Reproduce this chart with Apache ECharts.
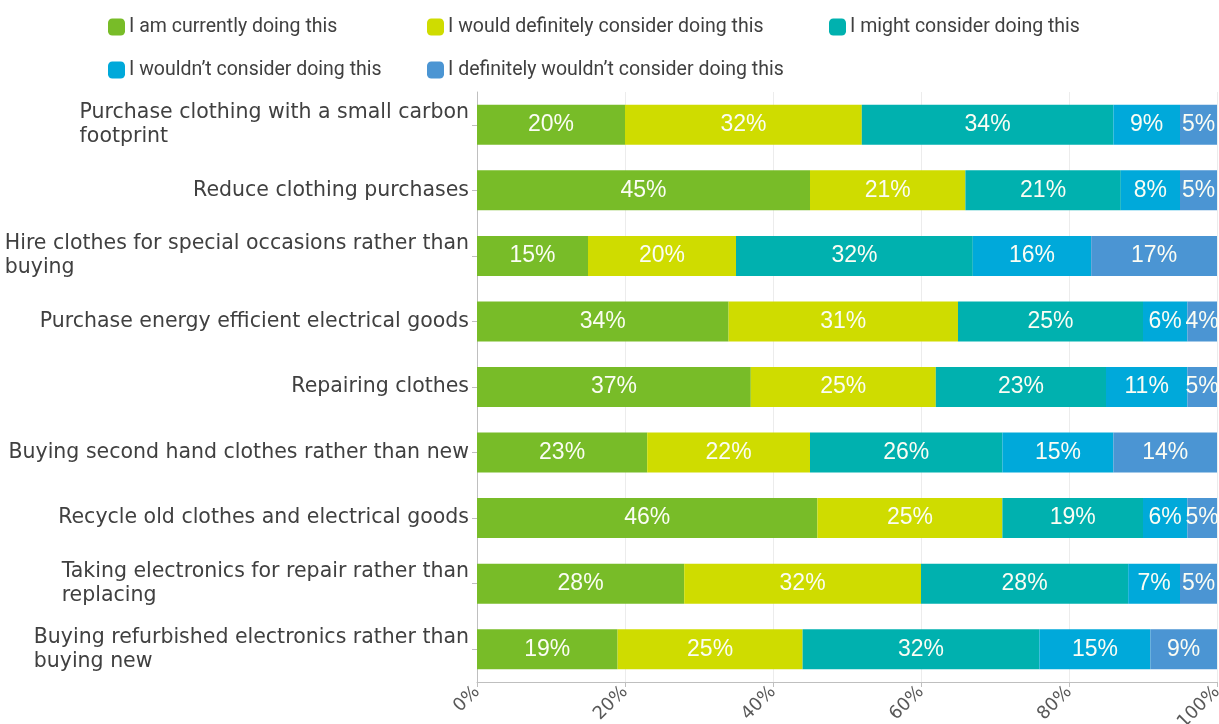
<!DOCTYPE html>
<html>
<head>
<meta charset="utf-8">
<title>Sustainable consumption behaviours</title>
<script src="https://cdn.jsdelivr.net/npm/echarts@6/dist/echarts.min.js"></script>
<style>
  html, body { margin: 0; padding: 0; background: #ffffff; }
  #chart { width: 1219px; height: 724px; }
</style>
</head>
<body>
<div id="chart"></div>
<script>
// Behaviours asked about (top to bottom)
const categories = [
  'Purchase clothing with a small carbon\nfootprint',
  'Reduce clothing purchases',
  'Hire clothes for special occasions rather than\nbuying',
  'Purchase energy efficient electrical goods',
  'Repairing clothes',
  'Buying second hand clothes rather than new',
  'Recycle old clothes and electrical goods',
  'Taking electronics for repair rather than\nreplacing',
  'Buying refurbished electronics rather than\nbuying new'
];

// Response options
const responses = [
  'I am currently doing this',
  'I would definitely consider doing this',
  'I might consider doing this',
  'I wouldn\u2019t consider doing this',
  'I definitely wouldn\u2019t consider doing this'
];

// Share of respondents (%) per behaviour, one array per response
const currentlyDoing      = [20, 45, 15, 34, 37, 23, 46, 28, 19];
const definitelyConsider  = [32, 21, 20, 31, 25, 22, 25, 32, 25];
const mightConsider       = [34, 21, 32, 25, 23, 26, 19, 28, 32];
const wouldNotConsider    = [9, 8, 16, 6, 11, 15, 6, 7, 15];
const definitelyNot       = [5, 5, 17, 4, 5, 14, 5, 5, 9];

// Value axis ticks
const tickValues = [0, 20, 40, 60, 80, 100];

const seriesValues = [currentlyDoing, definitelyConsider, mightConsider, wouldNotConsider, definitelyNot];
const colors = ['#78bc28', '#cfdc00', '#00b1af', '#00a9da', '#4b95d3'];

const legendPositions = [
  { left: 108, top: 17 },
  { left: 427, top: 17 },
  { left: 829, top: 17 },
  { left: 108, top: 60 },
  { left: 427, top: 60 }
];

const chart = echarts.init(document.getElementById('chart'), null, { renderer: 'canvas' });

const catFont = "'DejaVu Sans', sans-serif";

const option = {
  backgroundColor: '#ffffff',
  animation: false,
  color: colors,
  legend: responses.map((name, i) => ({
    data: [name],
    left: legendPositions[i].left,
    top: legendPositions[i].top,
    padding: 0,
    icon: 'roundRect',
    itemWidth: 17,
    itemHeight: 17,
    selectedMode: false,
    textStyle: { fontFamily: 'Roboto', fontSize: 19.5, color: '#404040', padding: [0, 0, 0, -1] }
  })),
  grid: { left: 477, right: 2, top: 92, bottom: 42, containLabel: false, outerBoundsMode: 'none' },
  xAxis: {
    type: 'value',
    min: tickValues[0],
    max: tickValues[tickValues.length - 1],
    interval: tickValues[1] - tickValues[0],
    axisLine: { show: true, lineStyle: { color: '#bfbfbf', width: 1 } },
    axisTick: { show: true, length: 5, lineStyle: { color: '#bfbfbf' } },
    splitLine: { show: true, lineStyle: { color: '#ececec', width: 1 } },
    axisLabel: {
      rotate: 45,
      margin: 7,
      formatter: '{value}%',
      fontFamily: catFont,
      fontSize: 18,
      color: '#595959'
    }
  },
  yAxis: {
    type: 'category',
    inverse: true,
    data: categories,
    axisLine: { show: true, lineStyle: { color: '#bfbfbf', width: 1 } },
    axisTick: { show: true, length: 5, alignWithLabel: true, lineStyle: { color: '#bfbfbf' } },
    splitLine: { show: false },
    axisLabel: {
      margin: 8,
      formatter: function (v) {
        return v.split('\n').map(function (line) { return '{a|' + line + '}'; }).join('\n');
      },
      rich: {
        a: { fontFamily: catFont, fontSize: 20.5, color: '#404040', align: 'left', lineHeight: 24 }
      }
    }
  },
  series: responses.map((name, i) => ({
    name: name,
    type: 'bar',
    stack: 'total',
    clip: true,
    barWidth: 40,
    data: seriesValues[i],
    itemStyle: { color: colors[i] },
    label: {
      show: true,
      position: 'inside',
      formatter: '{c}%',
      color: '#fbfdf4',
      fontFamily: "'Liberation Sans Narrow', 'Liberation Sans', sans-serif",
      fontSize: 23
    }
  }))
};

chart.setOption(option);
</script>
</body>
</html>
